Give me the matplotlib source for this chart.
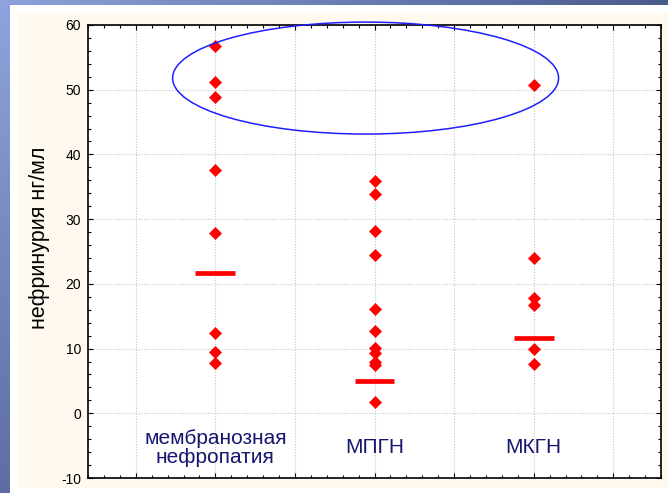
import numpy as np
import matplotlib
matplotlib.use("Agg")
import matplotlib.pyplot as plt
from matplotlib.patches import Ellipse
from matplotlib.ticker import MultipleLocator

# ==============================================================================
# 1. ДАННЫЕ
# ==============================================================================
categories = ["мембранозная\nнефропатия", "МПГН", "МКГН"]

# нефринурия, нг/мл, по группам
membr = [56.8, 51.2, 48.8, 37.6, 27.9, 12.4, 9.5, 7.8]
mpgn = [35.9, 33.9, 28.2, 24.5, 16.1, 12.7, 10.1, 9.3, 7.9, 7.4, 1.7]
mkgn = [50.7, 24.0, 17.8, 16.8, 9.9, 7.6]

# горизонтальные отметки по группам
group_levels = [21.7, 5.0, 11.6]

y_label = "нефринурия нг/мл"

W, H = 668, 493
plt.rcParams["font.family"] = ["Liberation Sans", "DejaVu Sans"]
plt.rcParams["axes.unicode_minus"] = False


def make_background():
    """Фон слайда: синие полосы слева и сверху, кремовая подложка"""
    bg = np.ones((H, W, 3))
    # верхняя полоса, градиент слева направо
    t = np.linspace(0, 1, W)[None, :, None]
    top_a = np.array([0.55, 0.63, 0.86])
    top_b = np.array([0.29, 0.36, 0.55])
    bg[:5, :, :] = top_a * (1 - t) + top_b * t
    # левая полоса, градиент сверху вниз
    s = np.linspace(0, 1, H)[:, None, None]
    left_a = np.array([0.56, 0.64, 0.87])
    left_b = np.array([0.36, 0.43, 0.64])
    bg[:, :10, :] = left_a * (1 - s) + left_b * s
    # кремовая подложка под графиком
    bg[13:488, 18:, :] = np.array([1.0, 0.98, 0.94])
    return bg


def create_chart():
    fig = plt.figure(figsize=(W / 100, H / 100), dpi=100)
    fig.figimage(make_background(), xo=0, yo=0, origin="upper", zorder=-5)

    ax = fig.add_axes([88 / W, 1 - 478 / H, (661 - 88) / W, (478 - 25) / H])
    ax.set_facecolor("white")

    # точки по группам
    for i, vals in enumerate([membr, mpgn, mkgn]):
        xs = np.full(len(vals), i + 1)
        ax.plot(xs, vals, linestyle="none", marker="D", markersize=6,
                color="#ff0000", mec="#ff0000", mew=0.5, zorder=4)
        ax.hlines(group_levels[i], i + 1 - 0.125, i + 1 + 0.125,
                  colors="#ff0000", linewidth=3.4, zorder=4)

    # подписи групп внутри поля графика
    for i, name in enumerate(categories):
        ax.text(i + 1, -5.3, name, ha="center", va="center", fontsize=15,
                color="#16166e", linespacing=1.0, zorder=5)

    # овал вокруг высоких значений
    oval = Ellipse((1.944, 51.8), 2.425, 17.3, fill=False, edgecolor="#1f1fff",
                   linewidth=1.1, clip_on=False, zorder=6)
    ax.add_patch(oval)

    # оси
    ax.set_xlim(0.2, 3.8)
    ax.set_ylim(-10, 60)
    ax.xaxis.set_major_locator(MultipleLocator(0.5))
    ax.xaxis.set_minor_locator(MultipleLocator(0.1))
    ax.yaxis.set_major_locator(MultipleLocator(10))
    ax.yaxis.set_minor_locator(MultipleLocator(2))
    ax.tick_params(which="both", direction="in", top=True, right=True,
                   color="black", width=0.8)
    ax.tick_params(which="major", length=3.5)
    ax.tick_params(which="minor", length=2.5)
    ax.tick_params(axis="y", labelsize=10, pad=5)
    ax.tick_params(axis="x", labelbottom=False)

    ax.grid(True, which="major", color="#c4c4c4", linestyle=(0, (1, 1.5)),
            linewidth=0.8, zorder=1)
    ax.set_axisbelow(True)
    for side in ax.spines.values():
        side.set_color("black")
        side.set_linewidth(1.2)

    fig.text(40 / W, 1 - 238 / H, y_label, rotation=90, ha="center",
             va="center", fontsize=15.5, color="black")

    fig.savefig("out.png", dpi=100, facecolor="white")
    plt.close(fig)


if __name__ == "__main__":
    create_chart()
